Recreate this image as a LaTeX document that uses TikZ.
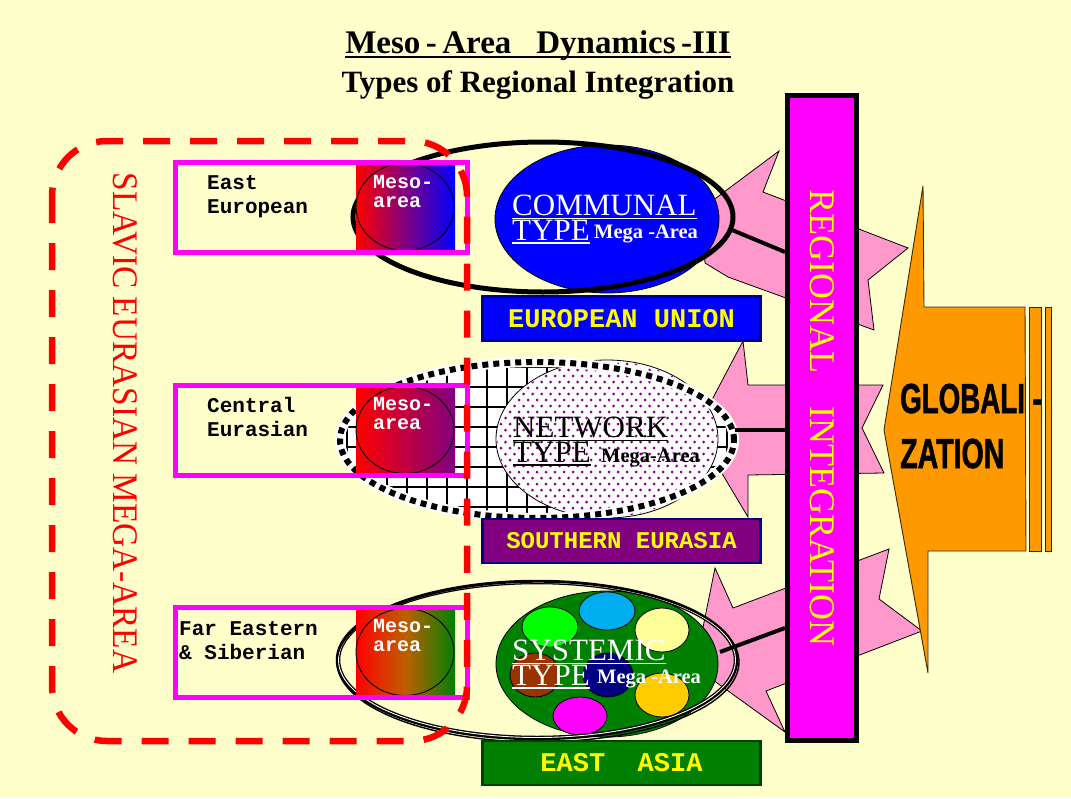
\documentclass[tikz,border=0pt]{standalone}
\usepackage{fontspec}
\setmainfont{Liberation Serif}
\newfontfamily\mono{Liberation Mono}
\newfontfamily\sansf{Liberation Sans}[BoldFeatures={FakeBold=1.6}]
\usetikzlibrary{shapes.geometric}
\definecolor{bgy}{RGB}{255,255,204}
\definecolor{pinkst}{RGB}{255,153,204}
\definecolor{mag}{RGB}{255,0,255}
\definecolor{yel}{RGB}{255,255,0}
\definecolor{navyb}{RGB}{0,0,128}
\definecolor{purp}{RGB}{128,0,128}
\definecolor{grn}{RGB}{0,128,0}
\definecolor{dkgrn}{RGB}{0,64,0}
\definecolor{orng}{RGB}{255,153,0}
\definecolor{brn}{RGB}{153,51,0}
\definecolor{lyel}{RGB}{255,255,153}
\definecolor{gold}{RGB}{255,204,0}
\definecolor{lgreen}{RGB}{0,255,0}
\definecolor{orline}{RGB}{60,40,0}
\tikzset{
 magbox/.style={draw=mag, line width=5, rectangle, minimum width=291.5, minimum height=90, inner sep=0},
 mesograd/.style={rectangle, minimum width=99, minimum height=85, inner sep=0},
 mesocirc/.style={ellipse, draw=black, line width=0.9, minimum width=98, minimum height=87, inner sep=0},
 mesotxt/.style={anchor=base west, text=white, inner sep=0, align=left, font=\mono\bfseries\fontsize{20}{19}\selectfont},
 lbltxt/.style={anchor=base west, inner sep=0, align=left, font=\mono\bfseries\fontsize{21}{24}\selectfont},
 regbox/.style={rectangle, draw=navyb, line width=2.5, minimum width=278, minimum height=44, inner sep=0, text=yel},
 starshape/.style={fill=pinkst, draw=black, line width=0.8},
 conn/.style={line width=4, black},
 typetxt/.style={anchor=base west, inner sep=0, font=\fontsize{31}{31}\selectfont},
 megatxt/.style={anchor=base west, inner sep=0, font=\bfseries\fontsize{20.5}{20.5}\selectfont},
 blob/.style={draw=black, line width=0.8},
 globtxt/.style={anchor=base west, inner sep=0, font=\sansf\bfseries\fontsize{42}{42}\selectfont},
 orangeshape/.style={fill=orng, draw=orline, line width=0.9},
}
\begin{document}
\begin{tikzpicture}[x=1pt,y=-1pt]
\fill[bgy] (0,0) rectangle (1071,798);
\useasboundingbox (0,0) rectangle (1071,798);

% pink arrow bursts
\draw[starshape] (700,210) -- (779,151) -- (763,192) -- (908,248) -- (868,280) -- (874,330) -- (728,277) -- (705,263) -- cycle;
\draw[starshape] (696,430) -- (743,341) -- (748,385) -- (883,385) -- (862,428) -- (884,473) -- (748,475) -- (748,517) -- cycle;
\draw[starshape] (695,667) -- (715,568) -- (733,608) -- (889,549) -- (879,599) -- (922,631) -- (766,691) -- (785,732) -- cycle;

% ---- row 1: communal
\node[ellipse, draw=black, line width=0.8, fill=blue, minimum width=224, minimum height=148, inner sep=0] (comm) at (607,219) {};
\node[ellipse, draw=black, line width=5, minimum width=380, minimum height=150, inner sep=0] (outer1) at (543,217) {};

% ---- row 2: network
\fill[white] (537,440) ellipse [x radius=197, y radius=78];
\begin{scope}
 \clip (537,440) ellipse [x radius=197, y radius=78];
 \foreach \xx in {327,347,...,747} \draw[line width=2] (\xx,350) -- (\xx,530);
 \foreach \yy in {347,367,...,527} \draw[line width=2] (330,\yy) -- (750,\yy);
\end{scope}
\node[ellipse, draw=black, line width=0.8, fill=white, minimum width=222, minimum height=158, inner sep=0] (netw) at (607,439) {};
\begin{scope}
 \clip (607,439) ellipse [x radius=110, y radius=78];
 \foreach \yy [count=\r] in {358,364,...,522} {
   \pgfmathsetmacro\off{mod(\r,2)*4.5}
   \foreach \xx in {492,501,...,726} { \fill[purp] (\xx+\off,\yy) circle [radius=1.5]; }
 }
\end{scope}
\draw[white, line width=10] (537,440) ellipse [x radius=197, y radius=78];
\node[ellipse, draw=black, line width=6, dash pattern=on 6pt off 5pt, minimum width=394, minimum height=156, inner sep=0] (outer2) at (537,440) {};

% ---- row 3: systemic
\node[ellipse, draw=black, line width=0.8, fill=grn, minimum width=222, minimum height=146, inner sep=0] (syst) at (607,664) {};
\draw[blob, fill=lgreen] (550,627) ellipse [x radius=28, y radius=20];
\draw[blob, fill=cyan] (607,611) ellipse [x radius=28, y radius=19];
\draw[blob, fill=lyel] (662,630) ellipse [x radius=27, y radius=22];
\draw[blob, fill=brn] (535,675) ellipse [x radius=25, y radius=22];
\draw[blob, fill=navyb] (608,675) ellipse [x radius=25, y radius=22];
\draw[blob, fill=gold] (662,695) ellipse [x radius=27, y radius=22];
\draw[blob, fill=mag] (580,716) ellipse [x radius=27, y radius=19];
\node[ellipse, draw=black, line width=4.5, minimum width=398, minimum height=156, inner sep=0] (outer3) at (537,660) {};
\draw[white, line width=0.9] (537,660) ellipse [x radius=198.5, y radius=77.5];
\draw[black, line width=1.4] (538,662) ellipse [x radius=201, y radius=80];

% ---- regional integration bar and connectors
\node[draw=black, line width=5, fill=mag, minimum width=69, minimum height=645, inner sep=0, text=yel] (bar) at (822,418)
  {\rotatebox{-90}{\fontsize{36}{36}\selectfont REGIONAL\hspace{34pt}INTEGRATION}};
\coordinate (s3) at (720,652);
\draw[conn] (outer1.-4) -- (bar.west |- 0,252);
\draw[conn] (outer2.3) -- (bar.west |- outer2.3);
\draw[conn] (s3) -- (bar.west |- 0,628);

% ---- type texts
\node[typetxt, text=white] (commT) at (512,215) {COMMUNAL};
\node[typetxt, text=white] (commY) at (512,240) {TYPE};
\node[megatxt, text=white] (commM) at (594,238) {Mega -Area};
\draw[white, line width=1.6] ([yshift=-3pt]commT.south west) -- ([yshift=-3pt]commT.south east);
\draw[white, line width=1.6] ([yshift=-3pt]commY.south west) -- ([yshift=-3pt]commY.south east);

\node[typetxt, text=black] (netT) at (513,437) {NETWORK};
\node[typetxt, text=black] (netY) at (513,462) {TYPE};
\node[megatxt, text=black] (netM) at (601,462) {Mega-Area};
\draw[black, line width=1.6] ([yshift=-3pt]netT.south west) -- ([yshift=-3pt]netT.south east);
\draw[black, line width=1.6] ([yshift=-3pt]netY.south west) -- ([yshift=-3pt]netY.south east);

\node[typetxt, text=white] (sysT) at (512,660) {SYSTEMIC};
\node[typetxt, text=white] (sysY) at (512,685) {TYPE};
\node[megatxt, text=white] (sysM) at (597,683) {Mega -Area};
\draw[white, line width=1.6] ([yshift=-3pt]sysT.south west) -- ([yshift=-3pt]sysT.south east);
\draw[white, line width=1.6] ([yshift=-3pt]sysY.south west) -- ([yshift=-3pt]sysY.south east);

% ---- region boxes
\node[regbox, fill=blue, font=\mono\bfseries\fontsize{27}{27}\selectfont] (eu) at (621.5,318.5) {EUROPEAN UNION};
\node[regbox, fill=purp, font=\mono\bfseries\fontsize{24}{24}\selectfont] (se) at (621.5,541) {SOUTHERN EURASIA};
\node[regbox, fill=grn, draw=dkgrn, font=\mono\bfseries\fontsize{27}{27}\selectfont] (ea) at (621.5,763) {EAST~~ASIA};

% ---- meso-area boxes
\node[mesograd, left color=red, right color=blue] (g1) at (405.5,207) {};
\node[mesograd, left color=red, right color=purp] (g2) at (405.5,430) {};
\node[mesograd, left color=red, right color=grn, middle color={rgb,255:red,190;green,95;blue,0}] (g3) at (405.5,652) {};
\node[mesocirc] (c1) at (405,207) {};
\node[mesocirc] (c2) at (405,430) {};
\node[mesocirc] (c3) at (405,652) {};
\node[mesotxt] (m1) at (373,207) {Meso-\\area};
\node[mesotxt] (m2) at (373,429) {Meso-\\area};
\node[mesotxt] (m3) at (373,651) {Meso-\\area};
\node[magbox] (box1) at (321.25,207) {};
\node[magbox] (box2) at (321.25,430) {};
\node[magbox] (box3) at (321.25,652) {};
\node[lbltxt] (l1) at (207,213) {East\\European};
\node[lbltxt] (l2) at (207,436) {Central\\Eurasian};
\node[lbltxt] (l3) at (179,659) {Far Eastern\\\& Siberian};

% ---- Slavic mega-area dashed frame
\draw[red, line width=6.5, dash pattern=on 27pt off 20pt, rounded corners=55pt] (52,141) rectangle (467,741);
\node[text=red, inner sep=0] (slav) at (125,423)
  {\rotatebox{-90}{\scalebox{0.925}[1]{\fontsize{36}{36}\selectfont SLAVIC EURASIAN MEGA-AREA}}};

% ---- globalization
\draw[orangeshape] (923,186) -- (924,307) -- (1025,307) -- (1026,551) -- (928,551) -- (928,673) -- (884,430) -- cycle;
\draw[orangeshape] (1029,307) rectangle (1041,551);
\draw[orangeshape] (1045,307) rectangle (1051,551);
\node[globtxt] (glob1) at (900,413) {\scalebox{0.66}[1]{GLOBALI -}};
\node[globtxt] (glob2) at (900,468) {\scalebox{0.68}[1]{ZATION}};

% ---- title
\node[anchor=base, inner sep=0, font=\bfseries\fontsize{33}{33}\selectfont] (title) at (538,53) {Meso\,-\,Area\hspace{25pt}Dynamics\,-III};
\draw[line width=1.8] ([yshift=-4pt]title.base west) -- ([yshift=-4pt]title.base east);
\node[anchor=base, inner sep=0, font=\bfseries\fontsize{31}{31}\selectfont] (subtitle) at (538,92) {Types of Regional Integration};
\end{tikzpicture}
\end{document}
